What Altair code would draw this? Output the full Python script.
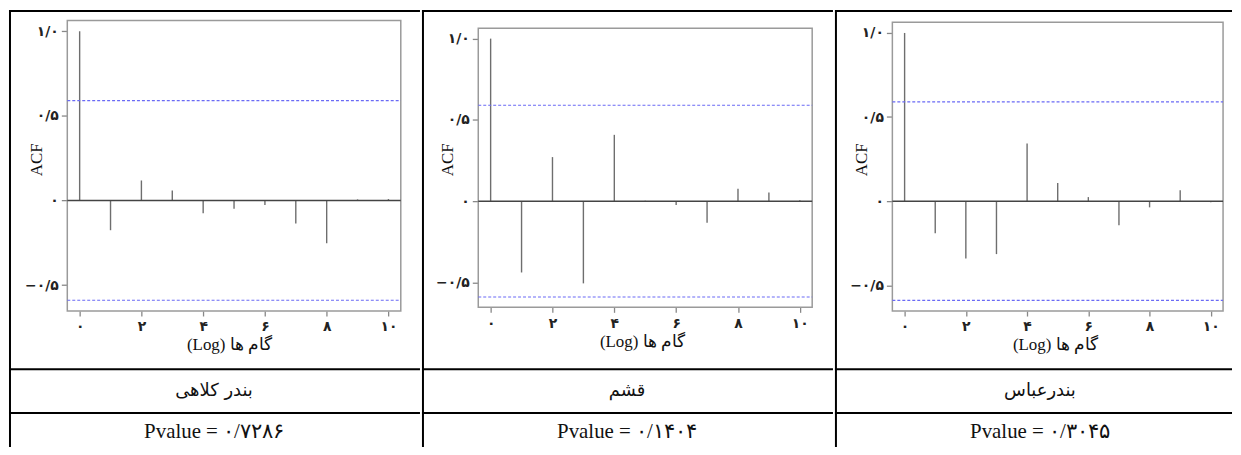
import altair as alt
import pandas as pd

# ---------------- data ----------------
lags = list(range(11))
acf_kolahi = [1.0, -0.176, 0.118, 0.059, -0.076, -0.049, -0.027, -0.137, -0.253, 0.006, 0.008]
acf_qeshm = [1.0, -0.439, 0.271, -0.506, 0.408, 0.002, -0.024, -0.133, 0.076, 0.053, 0.006]
acf_abbas = [1.0, -0.191, -0.341, -0.315, 0.343, 0.108, 0.024, -0.144, -0.037, 0.065, -0.006]
series = [acf_kolahi, acf_qeshm, acf_abbas]
port_names = ["بندر کلاهی", "قشم", "بندرعباس"]
pvalue_numbers = ["۰/۷۲۸۶", "۰/۱۴۰۴", "۰/۳۰۴۵"]
conf_limit = 0.59
x_tick_values = [0, 2, 4, 6, 8, 10]
x_tick_labels = ["۰", "۲", "۴", "۶", "۸", "۱۰"]
y_tick_values = [-0.5, 0, 0.5, 1.0]
y_tick_labels = ["−۰/۵", "۰", "۰/۵", "۱/۰"]
x_title = "(Log) گام ها"
y_title = "ACF"

# ---------------- layout ----------------
H = 439
col_widths = [413, 413, 399]
geom = [
    dict(x0=71.0, xu=31.03, y0=191.3, yu=170.0),
    dict(x0=69.0, xu=31.07, y0=192.0, yu=163.3),
    dict(x0=70.0, xu=30.77, y0=192.0, yu=169.0),
]


def label_expr(values, labels):
    expr = "''"
    for v, l in reversed(list(zip(values, labels))):
        expr = f"abs(datum.value - ({v})) < 1e-6 ? '{l}' : {expr}"
    return expr


def column(vals, name, pnum, W, g):
    xdom = [-g["x0"] / g["xu"], (W - g["x0"]) / g["xu"]]
    ydom = [(g["y0"] - H) / g["yu"], g["y0"] / g["yu"]]
    xs = alt.Scale(domain=xdom, nice=False, zero=False)
    ys = alt.Scale(domain=ydom, nice=False, zero=False)

    # R-style plot region (4% expansion of the data range)
    fx0, fx1 = min(lags) - 0.04 * (max(lags) - min(lags)), max(lags) + 0.04 * (max(lags) - min(lags))
    lo, hi = min(min(vals), -conf_limit), max(max(vals), conf_limit)
    fy0, fy1 = lo - 0.04 * (hi - lo), hi + 0.04 * (hi - lo)

    left_px = (fx0 - xdom[0]) / (xdom[1] - xdom[0]) * W
    bottom_px = (ydom[1] - fy0) / (ydom[1] - ydom[0]) * H

    xaxis = alt.Axis(values=x_tick_values, labelExpr=label_expr(x_tick_values, x_tick_labels),
                     domain=False, grid=False, ticks=True, tickSize=5, tickColor="#888", tickWidth=1.3,
                     labelFont="DejaVu Sans", labelFontSize=14, labelFontWeight="bold",
                     labelColor="#222", labelPadding=4, labelFlush=False, offset=-(H - bottom_px),
                     title=x_title, titleFont="Liberation Serif", titleFontSize=17, titleFontWeight="normal",
                     titleColor="#111", titleX=221, titleY=34, titleAlign="center", titleBaseline="middle")
    yaxis = alt.Axis(values=y_tick_values, labelExpr=label_expr(y_tick_values, y_tick_labels),
                     domain=False, grid=False, ticks=True, tickSize=6, tickColor="#888", tickWidth=1.3,
                     labelFont="DejaVu Sans", labelFontSize=14, labelFontWeight="bold",
                     labelColor="#222", labelPadding=3, labelFlush=False, offset=-left_px,
                     title=y_title, titleFont="Liberation Serif", titleFontSize=17, titleFontWeight="normal",
                     titleColor="#111", titleX=-31, titleY=150, titleAngle=270, titleAlign="center",
                     titleBaseline="middle")
    X = lambda f: alt.X(f, scale=xs, axis=xaxis)
    Y = lambda f: alt.Y(f, scale=ys, axis=yaxis)

    df = pd.DataFrame({"lag": lags, "acf": vals})
    spikes = alt.Chart(df).mark_rule(color="#6e6e6e", strokeWidth=1.4).encode(
        x=X("lag:Q"), y=Y("acf:Q"), y2=alt.datum(0),
    )
    frame_df = pd.DataFrame({"lag": [fx0], "x2": [fx1], "acf": [fy0], "y2": [fy1]})
    frame = alt.Chart(frame_df).mark_rect(fillOpacity=0, stroke="#9a9a9a", strokeWidth=1.5).encode(
        x=X("lag:Q"), x2="x2:Q", y=Y("acf:Q"), y2="y2:Q",
    )
    ref_df = pd.DataFrame({"lag": [fx0, fx0, fx0], "x2": [fx1, fx1, fx1],
                           "acf": [conf_limit, -conf_limit, 0.0], "kind": ["ci", "ci", "zero"]})
    ci = alt.Chart(ref_df).transform_filter("datum.kind == 'ci'").mark_rule(
        color="#6a6af5", strokeWidth=1.2, strokeDash=[3, 2]).encode(
        x=X("lag:Q"), x2="x2:Q", y=Y("acf:Q"),
    )
    zero = alt.Chart(ref_df).transform_filter("datum.kind == 'zero'").mark_rule(
        color="#444", strokeWidth=1.5).encode(
        x=X("lag:Q"), x2="x2:Q", y=Y("acf:Q"),
    )
    name_t = alt.Chart(pd.DataFrame({"t": [name]})).mark_text(
        font="DejaVu Sans", fontSize=18, color="#111", align="center", baseline="alphabetic"
    ).encode(text="t:N", x=alt.value(206), y=alt.value(388))
    p_t = alt.Chart(pd.DataFrame({"t": ["Pvalue = " + pnum]})).mark_text(
        font="Liberation Serif", fontSize=21, color="#111", align="center", baseline="alphabetic"
    ).encode(text="t:N", x=alt.value(206), y=alt.value(430))

    def hline(yv):
        return alt.Chart(pd.DataFrame({"a": [0]})).mark_rule(color="black", strokeWidth=2).encode(
            x=alt.value(0), x2=alt.value(W), y=alt.value(yv))

    vline = alt.Chart(pd.DataFrame({"a": [0]})).mark_rule(color="black", strokeWidth=2).encode(
        x=alt.value(1), y=alt.value(0), y2=alt.value(H))

    return alt.layer(spikes, frame, zero, ci, name_t, p_t,
                     hline(1), hline(361), hline(405), vline).properties(width=W, height=H)


cols = [column(series[i], port_names[i], pvalue_numbers[i], col_widths[i], geom[i]) for i in range(3)]
chart = alt.hconcat(*cols, spacing=0).properties(padding=0).configure_view(stroke=None)

chart.save("out.html", embed_options={"renderer": "svg", "actions": False})
